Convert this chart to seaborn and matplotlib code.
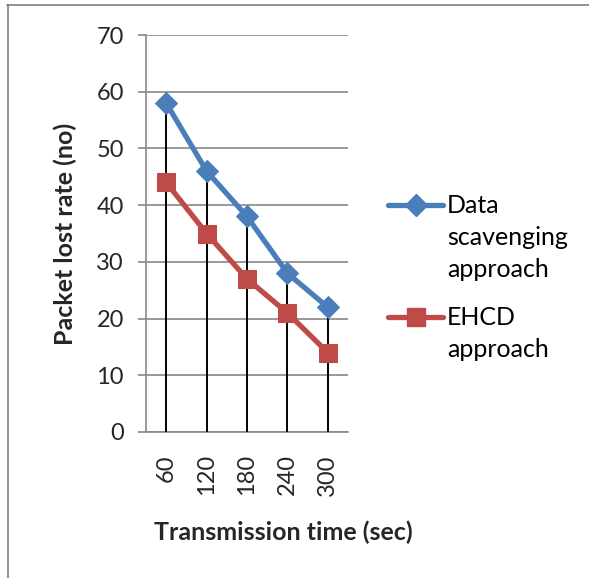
import matplotlib
matplotlib.use("Agg")
import matplotlib.pyplot as plt
import seaborn as sns
import pandas as pd
from matplotlib.lines import Line2D

categories = ["60", "120", "180", "240", "300"]
data_scavenging = [58, 46, 38, 28, 22]
ehcd = [44, 35, 27, 21, 14]
series_names = ["Data\nscavenging\napproach", "EHCD\napproach"]
y_ticks = [0, 10, 20, 30, 40, 50, 60, 70]

BLUE = "#4A7EBB"
RED = "#BE4B48"
GRID = "#888888"
FS = 18

sns.set_theme(style="white")
plt.rcParams["font.family"] = ["Lato", "DejaVu Sans"]

fig = plt.figure(figsize=(5.89, 5.78), dpi=100)
W, H = 589, 578
ax = fig.add_axes([146 / W, 1 - 432 / H, 202 / W, 397 / H])

idx = list(range(len(categories)))
df = pd.DataFrame({
    "x": idx * 2,
    "y": data_scavenging + ehcd,
    "s": [series_names[0]] * len(idx) + [series_names[1]] * len(idx),
})

# drop lines from highest point to axis
ax.vlines(idx, 0, data_scavenging, colors="black", linewidth=1.4, zorder=3)

sns.lineplot(data=df[df.s == series_names[0]], x="x", y="y", ax=ax, color=BLUE,
             marker="D", markersize=11.5, markeredgecolor=BLUE, linewidth=3.8, zorder=4, legend=False)
sns.lineplot(data=df[df.s == series_names[1]], x="x", y="y", ax=ax, color=RED,
             marker="s", markersize=13.5, markeredgecolor=RED, linewidth=3.8, zorder=4, legend=False)

ax.set_xlim(-0.5, len(categories) - 0.5)
ax.set_ylim(0, 70)
ax.set_yticks(y_ticks)
ax.set_yticklabels([str(t) for t in y_ticks], fontsize=FS - 1)
ax.set_xticks(idx)
ax.set_xticklabels(categories, rotation=90, fontsize=FS - 1)
ax.yaxis.grid(True, color=GRID, linewidth=1.2)
ax.xaxis.grid(False)
for s in ["top", "right"]:
    ax.spines[s].set_visible(False)
for s in ["left", "bottom"]:
    ax.spines[s].set_color(GRID)
    ax.spines[s].set_linewidth(1.2)
ax.tick_params(axis="y", which="major", left=True, length=6, width=1.2, color=GRID, pad=10)
ax.tick_params(axis="x", bottom=False, length=0, pad=16)
ax.set_xlabel("Transmission time (sec)", fontsize=FS, fontweight="bold", labelpad=19)
ax.xaxis.set_label_coords((283 - 146) / 202, -(532 - 432) / 397)
ax.xaxis.label.set_va("center")
ax.set_ylabel("Packet lost rate (no)", fontsize=FS, fontweight="bold", labelpad=14)
ax.set_facecolor("white")

# legend drawn manually so the key sits on the first text line
def fx(px):
    return px / W

def fy(py):
    return 1 - py / H

leg_items = [
    (series_names[0], BLUE, "D", 11.5, 205),
    (series_names[1], RED, "s", 13.5, 317),
]
for label, col, mk, ms, yc in leg_items:
    fig.add_artist(Line2D([fx(388), fx(443)], [fy(yc), fy(yc)], color=col, linewidth=3.8))
    fig.add_artist(Line2D([fx(415.5)], [fy(yc)], color=col, marker=mk, markersize=ms,
                          markeredgecolor=col, linestyle="none"))
    for i, line in enumerate(label.split("\n")):
        fig.text(fx(447), fy(yc + 8 + 32 * i), line, fontsize=FS, va="baseline", ha="left",
                 color="black")

# page frame lines
fig.add_artist(Line2D([7 / W, 1], [1 - 5 / H, 1 - 5 / H], color="#7f7f7f", linewidth=1.2))
fig.add_artist(Line2D([8 / W, 8 / W], [0, 1 - 5 / H], color="#7f7f7f", linewidth=1.2))

fig.savefig("out.png", dpi=100, facecolor="white")
